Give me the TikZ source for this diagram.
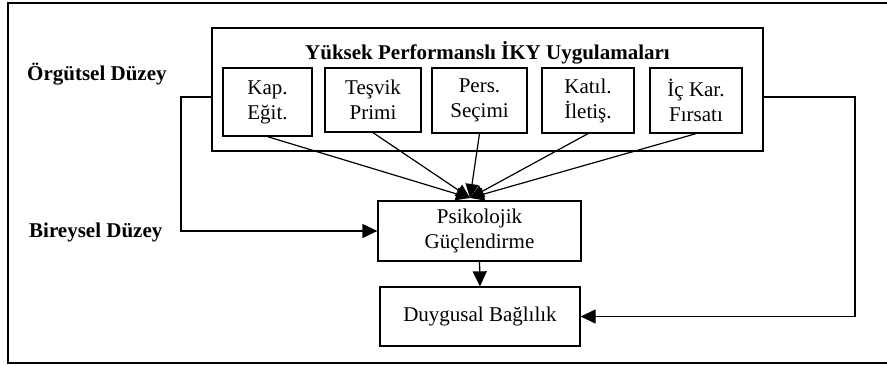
\documentclass[tikz,border=0pt]{standalone}
\usepackage{fontspec}
\setmainfont{Liberation Serif}
\usetikzlibrary{arrows.meta}
\begin{document}
\begin{tikzpicture}[x=1pt,y=-1pt,
  box/.style={draw,line width=1.3pt,rectangle,inner sep=0pt,align=center,
    font=\fontsize{21}{25}\selectfont},
  lvl/.style={anchor=base west,inner sep=0pt,font=\fontsize{21}{25}\selectfont\bfseries},
  conn/.style={line width=1.3pt},
  arr/.style={conn,-{Triangle[length=15pt,width=14pt]}},
  fan/.style={line width=1.2pt,-{Triangle[length=14pt,width=13pt]}}]
\useasboundingbox (0,0) rectangle (887,365);
\draw[line width=1.8pt] (895,3) -- (8,3) -- (8,363) -- (895,363);
% big box
\node[draw,line width=1.4pt,minimum width=551pt,minimum height=123pt,inner sep=0pt] (hpwp) at (487.5,89.5) {};
\node[inner sep=0pt,font=\fontsize{21}{25}\selectfont\bfseries] (title) at (487.5,53) {Yüksek Performanslı İKY Uygulamaları};
% sub boxes
\node[box,minimum width=89pt,minimum height=68pt] (kap) at (267.5,102) {Kap.\\Eğit.};
\node[box,minimum width=96pt,minimum height=64pt] (tes) at (373,100) {Teşvik\\Primi};
\node[box,minimum width=95pt,minimum height=65pt] (pers) at (479.5,100.5) {Pers.\\Seçimi};
\node[box,minimum width=92pt,minimum height=65pt] (kat) at (588,100.5) {Katıl.\\İletiş.};
\node[box,minimum width=92pt,minimum height=65pt] (ic) at (696,100.5) {İç Kar.\\Fırsatı};
% lower boxes
\node[box,minimum width=203pt,minimum height=60pt] (psik) at (479.5,231) {Psikolojik\\Güçlendirme};
\node[box,minimum width=200pt,minimum height=59pt] (duyg) at (480,316.5) {Duygusal Bağlılık};
% level labels
\node[lvl] (org) at (27,80) {Örgütsel Düzey};
\node[lvl] (bir) at (29,237) {Bireysel Düzey};
% fan
\coordinate (hub) at (470,198);
\draw[fan] (kap.south) -- (hub);
\draw[fan] (tes.south) -- (hub);
\draw[fan] (pers.south) -- (hub);
\draw[fan] (kat.south) -- (hub);
\draw[fan] (ic.south) -- (hub);
% connectors
\coordinate (lstart) at (212,97);
\coordinate (lbend) at (181,97);
\coordinate (rstart) at (763,97);
\coordinate (rbend) at (855,97);
\draw[arr] (lstart) -- (lbend) |- (psik.west);
\draw[arr] (rstart) -- (rbend) |- (duyg.east);
\draw[arr] (psik.south) -- (duyg.north);
\end{tikzpicture}
\end{document}
